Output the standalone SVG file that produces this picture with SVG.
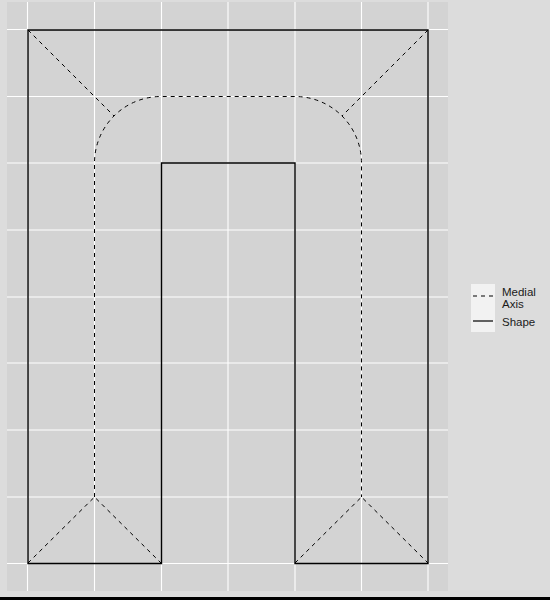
<svg xmlns="http://www.w3.org/2000/svg" width="550" height="600" viewBox="0 0 550 600">
<style>
.grid{stroke:#ffffff;stroke-width:1.1;fill:none}
.shape{stroke:#000;stroke-width:1.4;fill:none}
.medial{stroke:#000;stroke-width:1;fill:none;stroke-dasharray:4 4}
.lbl{font-family:"Liberation Sans",Arial,sans-serif;font-size:11.5px;fill:#1a1a1a}
</style>
<rect x="0" y="0" width="550" height="600" fill="#dcdcdc"/>
<rect x="7" y="2" width="441" height="589" fill="#d3d3d3"/>
<g id="grid" class="grid">
<path d="M27.5,2V591M94.5,2V591M161.5,2V591M228,2V591M295,2V591M361.5,2V591M428,2V591"/>
<path d="M7,29.5H448M7,96.5H448M7,163H448M7,230H448M7,297H448M7,363H448M7,430H448M7,497H448M7,563.5H448"/>
</g>
<g id="connectors">
<g id="medial-axis" class="medial">
<path d="M94.5,497 V163 A66.5,66.5 0 0 1 161,96.5 H295 A66.5,66.5 0 0 1 361.5,163 V497"/>
<path d="M28,30 L114,116"/>
<path d="M428,30 L342,116"/>
<path d="M28,563 L94.5,497 L161,563"/>
<path d="M295,563 L361.5,497 L428,563"/>
</g>
</g>
<g id="shape">
<path class="shape" d="M28,30 H428 V563.5 H295 V163 H161.5 V563.5 H28 Z"/>
</g>
<g id="legend">
<rect x="471" y="284" width="24" height="48" fill="#f2f2f2"/>
<line x1="473" y1="296" x2="493" y2="296" stroke="#000" stroke-width="1" stroke-dasharray="4 4"/>
<line x1="473" y1="321" x2="493" y2="321" stroke="#000" stroke-width="1.2"/>
<text class="lbl" x="502" y="295.5">Medial</text>
<text class="lbl" x="502" y="308">Axis</text>
<text class="lbl" x="502" y="326">Shape</text>
</g>
<rect x="0" y="597" width="550" height="3" fill="#000"/>
</svg>
